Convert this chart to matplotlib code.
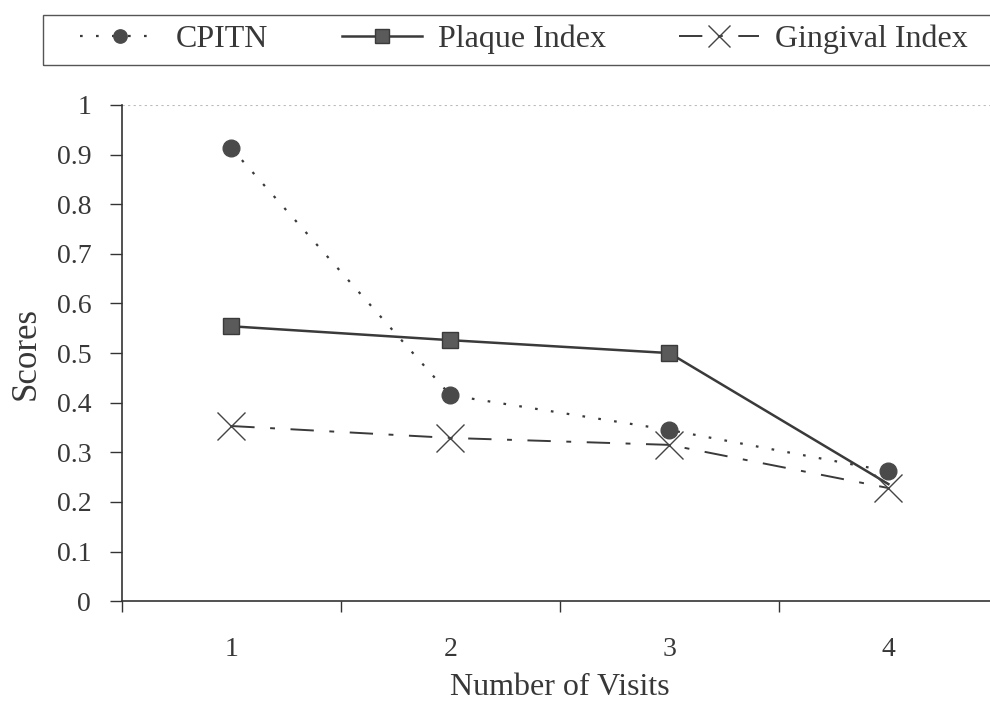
import matplotlib
matplotlib.use("Agg")
import matplotlib.pyplot as plt
from matplotlib.patches import Rectangle
from matplotlib.ticker import FixedLocator, NullFormatter, FixedFormatter

visits = [1, 2, 3, 4]
visit_labels = ["1", "2", "3", "4"]
cpitn = [0.913, 0.415, 0.345, 0.262]
plaque = [0.554, 0.526, 0.500, 0.236]
gingival = [0.353, 0.329, 0.315, 0.228]
yticks = [0, 0.1, 0.2, 0.3, 0.4, 0.5, 0.6, 0.7, 0.8, 0.9, 1]
ytick_labels = ["0", "0.1", "0.2", "0.3", "0.4", "0.5", "0.6", "0.7", "0.8", "0.9", "1"]

plt.rcParams['font.family'] = ['Liberation Serif', 'DejaVu Serif']

fig = plt.figure(figsize=(9.9, 7.14), dpi=100)
ax = fig.add_axes([0.123, 0.158, 0.885, 0.695])

c = "#3a3a3a"
txt = "#383838"
l1, = ax.plot(visits, cpitn, linestyle=(0, (1.2, 6)), color=c, lw=1.6,
              marker='o', ms=12, mfc="#4a4a4a", mec="#4a4a4a", label="CPITN")
l2, = ax.plot(visits, plaque, linestyle='-', color=c, lw=1.8,
              marker='s', ms=12, mfc="#5a5a5a", mec="#3a3a3a", markevery=[0, 1, 2],
              label="Plaque Index")
l3, = ax.plot(visits, gingival, linestyle=(0, (12, 8, 2.5, 8)), color=c, lw=1.4,
              marker='x', ms=20, mew=1.0, mec="#444444", label="Gingival Index")

ax.set_xlim(0.5, 4.5)
ax.set_ylim(0, 1)
ax.axhline(1.0, color="#bbbbbb", lw=0.8, linestyle=(0, (2, 3)), zorder=0)

ax.xaxis.set_major_locator(FixedLocator([0.5, 1.5, 2.5, 3.5]))
ax.xaxis.set_major_formatter(NullFormatter())
ax.xaxis.set_minor_locator(FixedLocator(visits))
ax.xaxis.set_minor_formatter(FixedFormatter(visit_labels))
ax.tick_params(axis='x', which='major', direction='out', length=8, width=1, color="#333333")
ax.tick_params(axis='x', which='minor', length=0, pad=26, labelsize=20, labelcolor=txt)

ax.set_yticks(yticks)
ax.set_yticklabels(ytick_labels)
ax.tick_params(axis='y', direction='out', length=9, width=1, color="#333333",
               labelsize=20, labelcolor=txt, pad=13)

for s in ['top', 'right']:
    ax.spines[s].set_visible(False)
for s in ['left', 'bottom']:
    ax.spines[s].set_color("#333333")
    ax.spines[s].set_linewidth(1.2)

ax.set_xlabel("Number of Visits", fontsize=23, color=txt, labelpad=8)
ax.set_ylabel("Scores", fontsize=25, color=txt)
ax.yaxis.set_label_coords(-0.09, 0.5)

# legend frame (extends past the right edge as in the reference)
fig.patches.append(Rectangle((43 / 990, 1 - 65 / 714), 1.0, 50 / 714,
                             transform=fig.transFigure, fill=False,
                             edgecolor="#555555", lw=1.0))
leg = fig.legend(handles=[l1, l2, l3], loc='center left',
                 bbox_to_anchor=(80 / 990, 1 - 39 / 714),
                 ncol=3, fontsize=23, frameon=False, markerscale=0.8,
                 handlelength=2.5, handletextpad=0.5,
                 borderpad=0.0, borderaxespad=0.0, columnspacing=2.3, labelcolor=txt)

fig.savefig("out.png", dpi=100)
